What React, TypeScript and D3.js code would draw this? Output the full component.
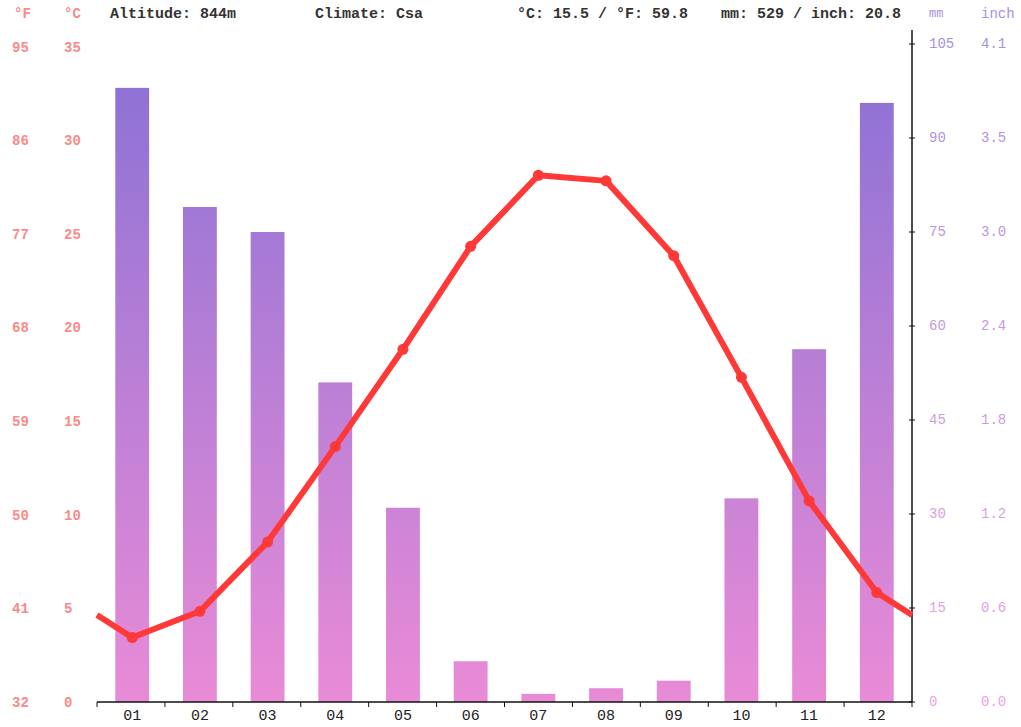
import React from "react";
import * as d3 from "d3";

const months = ["01", "02", "03", "04", "05", "06", "07", "08", "09", "10", "11", "12"];
const precipMm = [98, 79, 75, 51, 31, 6.5, 1.3, 2.2, 3.4, 32.5, 56.3, 95.6];
const tempC = [3.5, 4.9, 8.6, 13.7, 18.9, 24.4, 28.2, 27.9, 23.9, 17.4, 10.8, 5.9];
const tempTicksC = [0, 5, 10, 15, 20, 25, 30, 35];
const tempTicksF = ["32", "41", "50", "59", "68", "77", "86", "95"];
const precipTicksMm = [0, 15, 30, 45, 60, 75, 90, 105];
const precipTicksInch = ["0.0", "0.6", "1.2", "1.8", "2.4", "3.0", "3.5", "4.1"];
const headerTexts = {
  altitude: "Altitude: 844m",
  climate: "Climate: Csa",
  temp: "°C: 15.5 / °F: 59.8",
  precip: "mm: 529 / inch: 20.8",
};

const W = 1021;
const H = 727;
const X0 = 97;
const X1 = 912;

export default function App() {
  const x = d3.scaleBand<string>().domain(months).range([X0, X1]).paddingInner(0.5).paddingOuter(0.27);
  const yT = d3.scaleLinear().domain([0, 35]).range([703, 48]);
  const yP = d3.scaleLinear().domain([0, 105]).range([702, 44]);
  const labelColor = d3.scaleLinear<string>().domain([0, 105]).range(["#f0a4e2", "#a690e2"]);

  const cx = (m: string) => (x(m) as number) + x.bandwidth() / 2;
  const wrap = (tempC[0] + tempC[11]) / 2;
  const linePts: [number, number][] = [
    [X0, yT(wrap)],
    ...months.map((m, i) => [cx(m), yT(tempC[i])] as [number, number]),
    [X1, yT(wrap)],
  ];
  const line = d3.line().curve(d3.curveLinear)(linePts) as string;

  const mono = "'Liberation Mono', 'DejaVu Sans Mono', monospace";
  const step = (X1 - X0) / 12;
  const boundaries = d3.range(0, 13).map((k) => X0 + k * step);

  return (
    <svg width={W} height={H} style={{ position: "absolute", left: 0, top: 0, background: "#fff" }} fontFamily={mono}>
      <defs>
        <linearGradient id="barGrad" gradientUnits="userSpaceOnUse" x1="0" y1={yP(105)} x2="0" y2={yP(0)}>
          <stop offset="0" stopColor="#8870d4" />
          <stop offset="0.45" stopColor="#b47ed6" />
          <stop offset="1" stopColor="#e98bd6" />
        </linearGradient>
      </defs>

      {/* header */}
      <g fontSize={15} fontWeight="bold" dominantBaseline="middle">
        <text x={14} y={14} fill="#f88a8a" fontSize={14}>°F</text>
        <text x={64} y={14} fill="#f88a8a" fontSize={14}>°C</text>
        <text x={110} y={14} fill="#333">{headerTexts.altitude}</text>
        <text x={315} y={14} fill="#333">{headerTexts.climate}</text>
        <text x={517} y={14} fill="#333">{headerTexts.temp}</text>
        <text x={721} y={14} fill="#333">{headerTexts.precip}</text>
        <text x={929} y={14} fill="#a690e2" fontWeight="normal" fontSize={12}>mm</text>
        <text x={981} y={14} fill="#a690e2" fontWeight="normal" fontSize={14}>inch</text>
      </g>

      {/* bars */}
      {months.map((m, i) => (
        <rect
          key={m}
          x={x(m)}
          y={yP(precipMm[i])}
          width={x.bandwidth()}
          height={yP(0) - yP(precipMm[i])}
          fill="url(#barGrad)"
        />
      ))}

      {/* bottom axis */}
      <line x1={X0} x2={X1} y1={yP(0)} y2={yP(0)} stroke="#111" strokeWidth={1.5} />
      {boundaries.map((b, k) => (
        <line key={k} x1={b} x2={b} y1={yP(0)} y2={yP(0) + 5} stroke="#111" strokeWidth={1} />
      ))}
      {months.map((m) => (
        <text key={m} x={cx(m)} y={716} textAnchor="middle" dominantBaseline="middle" fontSize={15} fill="#222">
          {m}
        </text>
      ))}

      {/* right axis */}
      <line x1={X1} x2={X1} y1={30} y2={yP(0)} stroke="#111" strokeWidth={1.5} />
      {precipTicksMm.map((v) => (
        <line key={v} x1={X1 - 3} x2={X1 + 3} y1={yP(v)} y2={yP(v)} stroke="#111" strokeWidth={1} />
      ))}
      <g fontSize={14} dominantBaseline="middle">
        {precipTicksMm.map((v, i) => (
          <React.Fragment key={v}>
            <text x={929} y={yP(v)} fill={labelColor(v)}>{v}</text>
            <text x={981} y={yP(v)} fill={labelColor(v)}>{precipTicksInch[i]}</text>
          </React.Fragment>
        ))}
      </g>

      {/* left labels */}
      <g fontSize={14} fontWeight="bold" dominantBaseline="middle" fill="#f88a8a">
        {tempTicksC.map((v, i) => (
          <React.Fragment key={v}>
            <text x={12} y={yT(v)}>{tempTicksF[i]}</text>
            <text x={64} y={yT(v)}>{v}</text>
          </React.Fragment>
        ))}
      </g>

      {/* temperature line */}
      <path d={line} fill="none" stroke="#ff3838" strokeWidth={6} strokeLinejoin="round" />
      {months.map((m, i) => (
        <circle key={m} cx={cx(m)} cy={yT(tempC[i])} r={5.5} fill="#ff3838" />
      ))}
    </svg>
  );
}
